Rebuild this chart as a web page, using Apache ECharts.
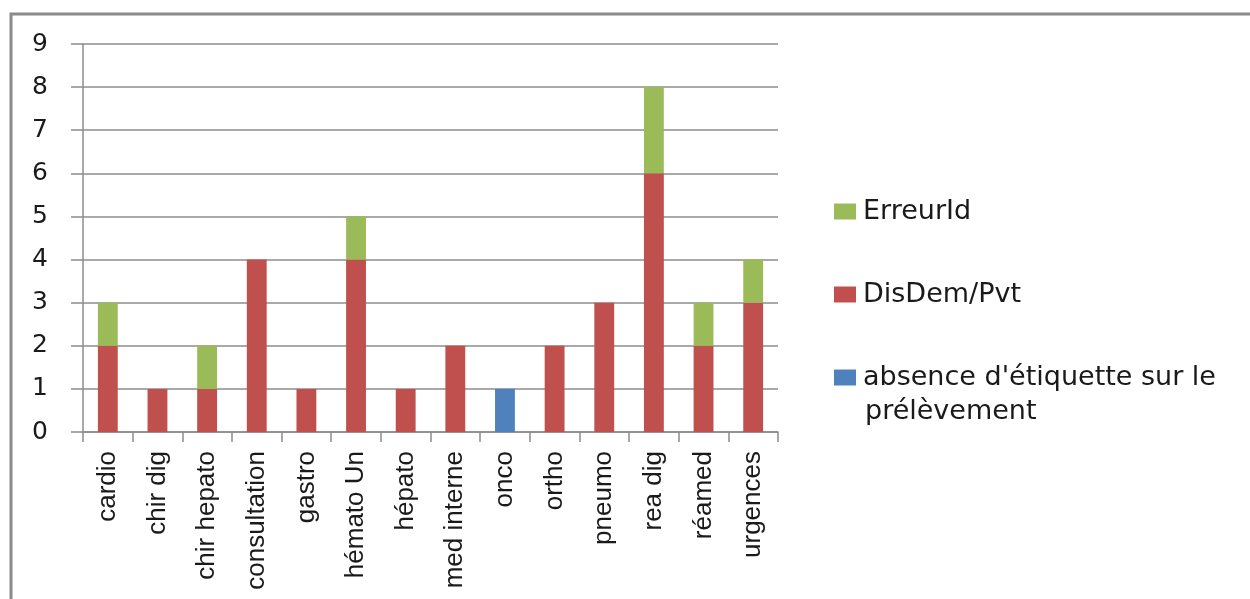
<!DOCTYPE html>
<html>
<head>
<meta charset="utf-8">
<script src="https://cdn.jsdelivr.net/npm/echarts@6/dist/echarts.min.js"></script>
<style>
html,body{margin:0;padding:0;background:#fff;}
#chart{width:1250px;height:599px;}
</style>
</head>
<body>
<div id="chart"></div>
<script>
const categories = ['cardio','chir dig','chir hepato','consultation','gastro','hémato Un','hépato','med interne','onco','ortho','pneumo','rea dig','réamed','urgences'];
const absenceEtiquette = [0,0,0,0,0,0,0,0,1,0,0,0,0,0];
const disDemPvt = [2,1,1,4,1,4,1,2,0,2,3,6,2,3];
const erreurId = [1,0,1,0,0,1,0,0,0,0,0,2,1,1];
const yTicks = [0,1,2,3,4,5,6,7,8,9];

const NAME_ABS = "absence d'étiquette sur le prélèvement";
const NAME_DIS = 'DisDem/Pvt';
const NAME_ERR = 'ErreurId';
const ABS_LINE1 = "absence d'étiquette sur le";
const ABS_LINE2 = 'prélèvement';
const GRID_COLOR = '#8c8c8c';
const legendText = {fontFamily:'DejaVu Sans', fontSize:27, color:'#1a1a1a', padding:[0,0,0,2]};

function legendAt(name, top, fmt){
  return {data:[name], orient:'vertical', left:834, top:top, padding:0,
    itemWidth:22, itemHeight:16, icon:'rect', textStyle:legendText, selectedMode:false,
    formatter: fmt || '{name}'};
}

const chart = echarts.init(document.getElementById('chart'));
chart.setOption({
  animation:false,
  backgroundColor:'#fff',
  graphic:[{
    type:'polyline',
    shape:{points:[[11,599],[11,14],[1250,14]]},
    style:{stroke:'#8a8a8a', lineWidth:3, fill:null}
  },{
    type:'text', left:865, top:398,
    style:{text:ABS_LINE2, fontFamily:'DejaVu Sans', fontSize:27, fill:'#1a1a1a'}
  }],
  grid:{left:83, right:472, top:44, bottom:167},
  legend:[
    legendAt(NAME_ERR, 198),
    legendAt(NAME_DIS, 281),
    legendAt(NAME_ABS, 364, function(){return ABS_LINE1;})
  ],
  xAxis:{
    type:'category',
    data:categories,
    axisLine:{lineStyle:{color:GRID_COLOR, width:1.5}},
    axisTick:{show:true, length:10, lineStyle:{color:GRID_COLOR, width:1.5}},
    axisLabel:{rotate:90, margin:19, interval:0, fontFamily:'Liberation Sans', fontSize:26, color:'#1a1a1a'}
  },
  yAxis:{
    type:'value', min:yTicks[0], max:yTicks[yTicks.length-1], interval:1,
    axisLine:{show:true, lineStyle:{color:GRID_COLOR, width:1.5}},
    axisTick:{show:true, length:12, lineStyle:{color:GRID_COLOR, width:1.5}},
    splitLine:{show:true, lineStyle:{color:GRID_COLOR, width:1.5}},
    axisLabel:{margin:35, fontFamily:'DejaVu Sans', fontSize:25, color:'#1a1a1a'}
  },
  series:[
    {name:NAME_ABS, type:'bar', stack:'s', data:absenceEtiquette, barWidth:'40%', itemStyle:{color:'#4F81BD'}},
    {name:NAME_DIS, type:'bar', stack:'s', data:disDemPvt, barWidth:'40%', itemStyle:{color:'#C0504D'}},
    {name:NAME_ERR, type:'bar', stack:'s', data:erreurId, barWidth:'40%', itemStyle:{color:'#9BBB59'}}
  ]
});
</script>
</body>
</html>
